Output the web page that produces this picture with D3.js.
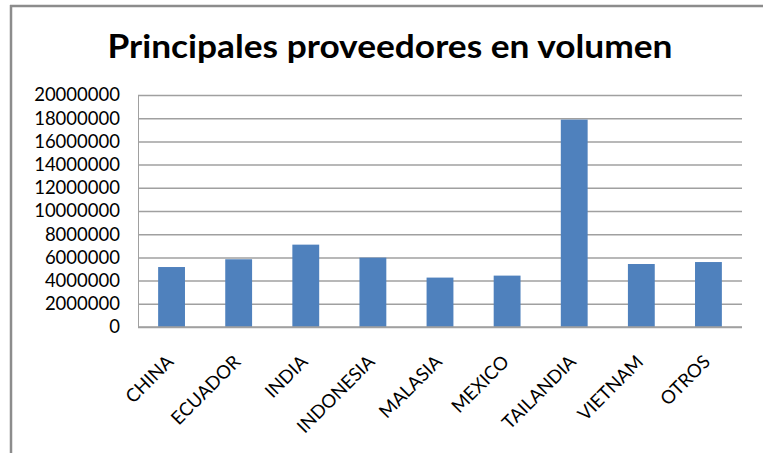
<!DOCTYPE html>
<html><head><meta charset="utf-8">
<script src="https://cdn.jsdelivr.net/npm/d3@7"></script>
<style>
html,body{margin:0;padding:0;background:#fff;}
svg{display:block;}
</style></head>
<body>
<svg id="chart" width="763" height="453"></svg>
<script>
const title = "Principales proveedores en volumen";
const categories = ["CHINA","ECUADOR","INDIA","INDONESIA","MALASIA","MEXICO","TAILANDIA","VIETNAM","OTROS"];
const values = [5170000, 5840000, 7100000, 5980000, 4260000, 4430000, 17880000, 5430000, 5600000];
const yTicks = [0,2000000,4000000,6000000,8000000,10000000,12000000,14000000,16000000,18000000,20000000];

const svg = d3.select("#chart");
const W = 763, H = 453;
const m = {left:138, right:21, top:95, bottom:126};
const x = d3.scaleBand().domain(categories).range([m.left, W - m.right]).paddingInner(0.6).paddingOuter(0.3);
const y = d3.scaleLinear().domain([0, 20000000]).range([H - m.bottom, m.top]);

// frame (left and top edges)
svg.append("line").attr("x1",11).attr("x2",11).attr("y1",5).attr("y2",H).attr("stroke","#8c8c8c").attr("stroke-width",2.5);
svg.append("line").attr("x1",10).attr("x2",W).attr("y1",6).attr("y2",6).attr("stroke","#8c8c8c").attr("stroke-width",2.5);

// title
svg.append("text").attr("x",390).attr("y",58).attr("text-anchor","middle")
  .attr("font-family","Lato, 'Open Sans', sans-serif").attr("font-weight","bold").attr("font-size",32)
  .attr("fill","#000").attr("textLength",565).attr("lengthAdjust","spacingAndGlyphs").text(title);

// gridlines
const yAxis = d3.axisLeft(y).tickValues(yTicks).tickSize(-(W - m.left - m.right)).tickFormat(d => d3.format("d")(d)).tickPadding(18);
const gy = svg.append("g").attr("transform",`translate(${m.left},0)`).call(yAxis);
gy.select(".domain").attr("stroke","#a0a0a0");
gy.selectAll(".tick line").attr("stroke","#a0a0a0").attr("stroke-width",1.5);
gy.selectAll(".tick text").attr("font-family","Lato, 'Open Sans', sans-serif").attr("font-size",18.5).attr("fill","#000").attr("dx",0);

// bars
svg.append("g").selectAll("rect").data(values).join("rect")
  .attr("x",(d,i)=>x(categories[i])).attr("width",x.bandwidth())
  .attr("y",d=>y(d)).attr("height",d=>y(0)-y(d)).attr("fill","#4f81bd");

// x axis baseline
svg.append("line").attr("x1",m.left).attr("x2",W-m.right).attr("y1",y(0)).attr("y2",y(0)).attr("stroke","#a0a0a0").attr("stroke-width",1.5);

// x labels
const xAxis = d3.axisBottom(x).tickSize(0).tickPadding(0);
const gx = svg.append("g").attr("transform",`translate(0,${y(0)})`).call(xAxis);
gx.select(".domain").remove();
gx.selectAll(".tick text")
  .attr("font-family","Lato, 'Open Sans', sans-serif").attr("font-size",18.5).attr("fill","#000")
  .attr("text-anchor","end").attr("dy",0).attr("y",0)
  .attr("transform","translate(3,36) rotate(-45)");
</script>
</body></html>
